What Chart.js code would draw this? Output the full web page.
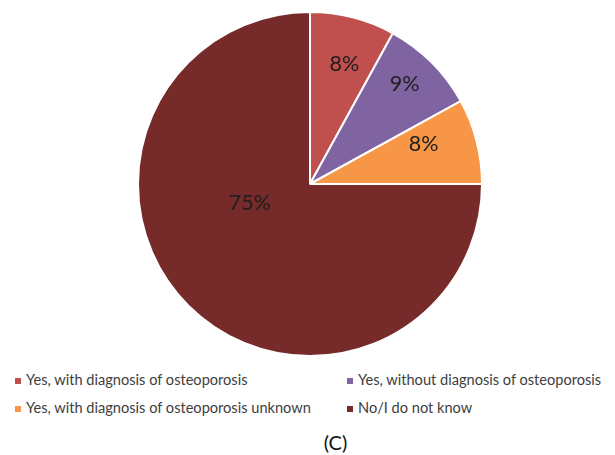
<!DOCTYPE html>
<html>
<head>
<meta charset="utf-8">
<script src="https://cdn.jsdelivr.net/npm/chart.js@4/dist/chart.umd.min.js"></script>
<style>
    html, body { margin: 0; padding: 0; background: #fff; }
    .wrap { position: relative; width: 615px; height: 455px; font-family: Lato, "Open Sans", sans-serif; }
    .chart-box { position: absolute; left: 0; top: 0; width: 615px; height: 370px; }
    .legend { position: absolute; left: 0; top: 370px; width: 615px; }
    .legend-item { position: absolute; font-size: 14.6px; color: #404040; white-space: nowrap; line-height: 18px; }
    .legend-item .swatch { display: inline-block; width: 6px; height: 6px; margin-right: 5px; vertical-align: 1px; }
    .caption { position: absolute; left: 0; width: 615px; top: 430px; text-align: center; font-size: 20px; color: #111; padding-left: 56px; box-sizing: border-box; }
</style>
</head>
<body>
<div class="wrap">
    <div class="chart-box"><canvas id="pieChart"></canvas></div>
    <div class="legend" id="legend"></div>
    <div class="caption">(C)</div>
</div>
<script>
const categories = [
    'Yes, with diagnosis of osteoporosis',
    'Yes, without diagnosis of osteoporosis',
    'Yes, with diagnosis of osteoporosis unknown',
    'No/I do not know'
];
const shares = [8, 9, 8, 75];
const sliceColors = ['#C0504D', '#8064A2', '#F79646', '#772A2A'];

// label anchor, in units of the pie radius, measured from the centre
const labelOffsets = [[0.20, -0.70], [0.55, -0.58], [0.66, -0.23], [-0.35, 0.11]];

const pieLabels = {
    id: 'pieLabels',
    afterDatasetsDraw(chart) {
        const ctx = chart.ctx;
        const meta = chart.getDatasetMeta(0);
        ctx.save();
        ctx.font = '21.5px Lato, "Open Sans", sans-serif';
        ctx.fillStyle = '#1e1e1e';
        ctx.textAlign = 'center';
        ctx.textBaseline = 'middle';
        meta.data.forEach((arc, i) => {
            const r = arc.outerRadius;
            const [dx, dy] = labelOffsets[i];
            ctx.fillText(shares[i] + '%', arc.x + dx * r, arc.y + dy * r);
        });
        ctx.restore();
    }
};

new Chart(document.getElementById('pieChart'), {
    type: 'pie',
    data: {
        labels: categories,
        datasets: [{
            data: shares,
            backgroundColor: sliceColors,
            borderColor: '#ffffff',
            borderWidth: 2
        }]
    },
    options: {
        responsive: true,
        maintainAspectRatio: false,
        animation: false,
        layout: { padding: { top: 11, bottom: 13, left: 5, right: 0 } },
        plugins: {
            legend: { display: false },
            tooltip: { enabled: false }
        }
    },
    plugins: [pieLabels]
});

// legend in two columns under the pie
const legendPos = [[15, 1], [347, 1], [15, 29], [347, 29]];
const legend = document.getElementById('legend');
categories.forEach((name, i) => {
    const item = document.createElement('div');
    item.className = 'legend-item';
    item.style.left = legendPos[i][0] + 'px';
    item.style.top = legendPos[i][1] + 'px';
    item.innerHTML = `<span class="swatch" style="background:${sliceColors[i]}"></span>${name}`;
    legend.appendChild(item);
});
</script>
</body>
</html>
